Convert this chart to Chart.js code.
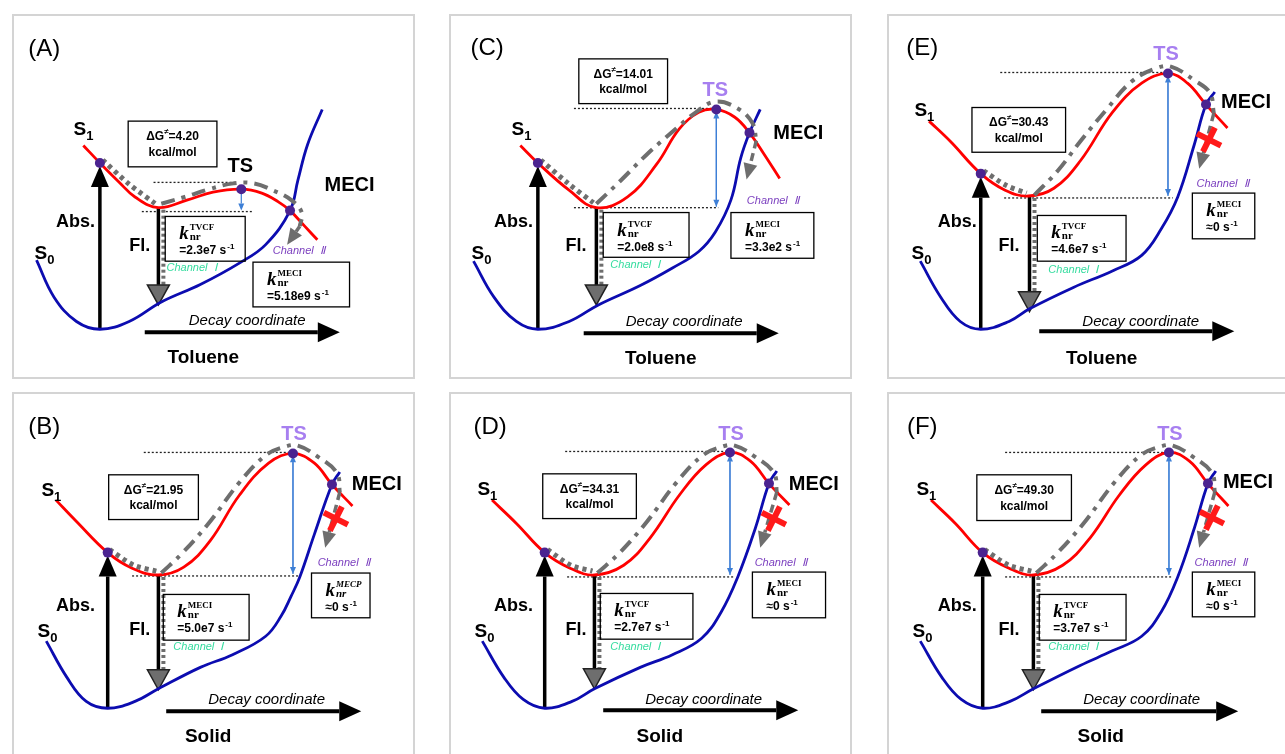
<!DOCTYPE html>
<html>
<head>
<meta charset="utf-8">
<script src="https://cdn.jsdelivr.net/npm/chart.js@4.4.1/dist/chart.umd.min.js"></script>
<style>
  body { margin: 0; background: #fff; width: 1285px; height: 754px; overflow: hidden; position: relative; }
  .frame { position: absolute; width: 403px; height: 365px; border: 2px solid #d4d4d4; box-sizing: border-box; }
  canvas { position: absolute; }
</style>
</head>
<body>
<div class="frame" style="left:12px;top:14px"></div>
<div class="frame" style="left:12px;top:392px"></div>
<div class="frame" style="left:449px;top:14px"></div>
<div class="frame" style="left:449px;top:392px"></div>
<div class="frame" style="left:887px;top:14px"></div>
<div class="frame" style="left:887px;top:392px"></div>
<canvas id="pA" width="403" height="365" style="left:12px;top:14px"></canvas>
<canvas id="pB" width="403" height="365" style="left:12px;top:392px"></canvas>
<canvas id="pC" width="403" height="365" style="left:449px;top:14px"></canvas>
<canvas id="pD" width="403" height="365" style="left:449px;top:392px"></canvas>
<canvas id="pE" width="403" height="365" style="left:887px;top:14px"></canvas>
<canvas id="pF" width="403" height="365" style="left:887px;top:392px"></canvas>
<script>
// panels in order A, B, C, D, E, F ; points are [decay coordinate, energy]
const tags = ['(A)', '(B)', '(C)', '(D)', '(E)', '(F)'];
const media = ['Toluene', 'Solid', 'Toluene', 'Solid', 'Toluene', 'Solid'];
const barriers = ['4.20', '21.95', '14.01', '34.31', '30.43', '49.30'];
const ch1Kinds = ['TVCF', 'MECI', 'TVCF', 'TVCF', 'TVCF', 'TVCF'];
const ch1Rates = ['=2.3e7', '=5.0e7', '=2.0e8', '=2.7e7', '=4.6e7', '=3.7e7'];
const ch2Kinds = ['MECI', 'MECP', 'MECI', 'MECI', 'MECI', 'MECI'];
const ch2Rates = ['=5.18e9', '≈0', '=3.3e2', '≈0', '≈0', '≈0'];

const s1A = [[68,235],[85,217],[105,197],[121,182],[145,171],[175,179],[201,187],[230,190],[251,186],[268,177],[280,168],[295,152],[308,138]];
const s0A = [[20,117],[38,79],[61,54],[85,46],[115,54],[148,74],[188,92],[228,114],[255,133],[280,168],[288,199],[298,236],[313,272]];
const s1B = [[40,259],[61,237],[93,205],[118,189],[145,182],[171,190],[198,217],[228,264],[258,297],[283,307],[305,297],[323,275],[344,253]];
const s0B = [[30,114],[51,77],[71,52],[93,45],[121,52],[145,65],[188,87],[221,100],[255,119],[271,140],[281,160],[290,180],[305,224],[323,275],[331,288]];
const s1C = [[68,235],[86,217],[118,189],[146,171],[178,182],[208,216],[231,252],[251,269],[269,272],[288,264],[303,248],[318,226],[334,201]];
const s0C = [[20,116],[41,79],[64,54],[86,46],[118,54],[148,71],[191,91],[224,109],[251,126],[268,146],[284,179],[294,222],[303,248],[314,272]];
const s1D = [[39,259],[64,235],[93,205],[119,189],[144,182],[174,192],[201,220],[231,264],[258,295],[283,308],[304,299],[323,276],[344,254]];
const s0D = [[29,114],[51,77],[71,54],[93,45],[121,52],[144,65],[191,87],[224,100],[254,117],[274,144],[291,180],[309,230],[323,276],[331,289]];
const s1E = [[38,260],[60,239],[91,206],[116,189],[140,183],[166,191],[193,219],[226,269],[256,299],[283,309],[303,299],[322,277],[344,253]];
const s0E = [[29,116],[50,79],[70,54],[91,46],[120,54],[141,67],[186,89],[226,106],[256,122],[276,149],[293,182],[310,236],[322,277],[331,290]];
const s1F = [[40,259],[65,235],[93,205],[120,189],[145,182],[175,192],[203,220],[233,264],[260,295],[284,308],[305,299],[324,276],[345,253]];
const s0F = [[29,114],[51,77],[71,54],[93,45],[121,52],[145,65],[193,89],[226,104],[256,119],[276,144],[293,180],[310,230],[324,276],[332,289]];

const fcPoints = [[85,217],[93,205],[86,217],[93,205],[91,206],[93,205]];
const s0Minima = [[85,46],[93,45],[86,46],[93,45],[91,46],[93,45]];
const s1Minima = [[145,171],[145,182],[146,171],[144,182],[141,183],[145,182]];
const tsPoints = [[230,190],[283,307],[269,272],[283,308],[283,309],[284,308]];
const meciPoints = [[280,168],[323,275],[303,248],[323,276],[322,277],[324,276]];
const flEnds = [71, 64, 71, 65, 64, 64];

// relaxation paths (gray) and channel II arrow tips
const relaxA = [[88,220],[114,196],[142,175]];
const relaxB = [[95,208],[120,192],[143,186]];
const relaxC = [[89,220],[117,196],[143,176]];
const relaxD = [[96,208],[120,192],[142,186]];
const relaxE = [[94,209],[117,194],[138,186]];
const relaxF = [[95,208],[120,192],[143,186]];
const climbA = [[148,175],[172,182],[197,190],[222,196],[243,196],[262,189],[281,179],[292,166],[290,152]];
const climbB = [[148,184],[170,205],[198,237],[228,277],[255,305],[275,314],[288,315],[308,304],[328,287],[331,267]];
const climbC = [[146,175],[171,199],[198,226],[224,249],[248,269],[268,280],[291,273],[306,258],[310,240]];
const climbD = [[147,184],[170,205],[198,237],[228,277],[255,305],[275,314],[288,315],[308,304],[328,287],[331,267]];
const climbE = [[146,184],[170,209],[193,239],[220,272],[246,301],[270,314],[286,316],[310,302],[326,289],[330,268]];
const climbF = [[148,184],[170,205],[198,237],[228,277],[255,305],[275,314],[288,315],[308,304],[328,287],[331,267]];
const ch2Tips = [[277,133],[316,210],[300,200],[314,210],[315,211],[315,210]];

// text and box placement for each panel
const layouts = [
  { tag: [28,334], s1: [58,251], s0: [18,124], abs: [60,156], fl: [126,132], ts: [229,213], tsColor: '#000', meci: [341,194],
    dg: [114,260,205,213], k1: [152,162,234,116], k2: [242,115,341,69], ch1: [179,109], ch2: [289,127],
    guideTop: [140,226,197], guideBot: [128,241,167], gap: [230,187,168,false], decay: [131,331,43], decayText: [236,55], medium: [191,17], cross: null },
  { tag: [28,334], s1: [25,269], s0: [21,124], abs: [60,150], fl: [126,125], ts: [284,326], tsColor: '#a77ff0', meci: [369,275],
    dg: [94,285,186,239], k1: [150,162,238,115], k2: [302,184,362,138], ch1: [186,108], ch2: [335,194],
    guideTop: [130,283,308], guideBot: [118,290,181], gap: [283,305,183,true], decay: [153,353,42], decayText: [256,54], medium: [196,16], cross: [327,240] },
  { tag: [34,335], s1: [59,251], s0: [18,124], abs: [61,156], fl: [125,132], ts: [268,291], tsColor: '#a77ff0', meci: [353,247],
    dg: [128,324,219,278], k1: [153,166,241,120], k2: [284,166,369,119], ch1: [186,112], ch2: [327,178],
    guideTop: [123,268,273], guideBot: [123,271,171], gap: [269,270,172,true], decay: [133,333,42], decayText: [236,54], medium: [212,16], cross: null },
  { tag: [37,334], s1: [24,270], s0: [21,124], abs: [61,150], fl: [125,125], ts: [284,326], tsColor: '#a77ff0', meci: [369,275],
    dg: [91,286,187,240], k1: [150,163,245,116], k2: [306,185,381,138], ch1: [186,108], ch2: [335,194],
    guideTop: [114,283,309], guideBot: [116,288,180], gap: [283,306,182,true], decay: [153,353,43], decayText: [256,54], medium: [211,16], cross: [328,240] },
  { tag: [31,335], s1: [23,271], s0: [20,124], abs: [67,156], fl: [120,132], ts: [281,329], tsColor: '#a77ff0', meci: [363,279],
    dg: [82,274,178,228], k1: [149,163,240,116], k2: [308,186,372,139], ch1: [186,107], ch2: [339,195],
    guideTop: [111,283,310], guideBot: [115,288,181], gap: [283,307,183,true], decay: [151,351,44], decayText: [255,54], medium: [215,16], cross: [325,241] },
  { tag: [31,334], s1: [25,270], s0: [21,124], abs: [67,150], fl: [120,125], ts: [285,326], tsColor: '#a77ff0', meci: [365,277],
    dg: [87,285,184,238], k1: [151,162,240,115], k2: [308,185,372,139], ch1: [186,108], ch2: [337,194],
    guideTop: [116,285,308], guideBot: [116,288,180], gap: [284,306,182,true], decay: [153,355,42], decayText: [256,54], medium: [214,16], cross: [328,241] }
];

const W = 403, H = 365;
const SANS = '"Liberation Sans", Arial, sans-serif';
const SERIF = '"Liberation Serif", "Times New Roman", serif';
const GRAY = '#6e6e6e';

function toXY(arr) { return arr.map(p => ({ x: p[0], y: p[1] })); }

function arrow(ctx, x1, y1, x2, y2, o) {
  const ang = Math.atan2(y2 - y1, x2 - x1);
  const bx = x2 - o.headLen * Math.cos(ang), by = y2 - o.headLen * Math.sin(ang);
  const hw = o.headW / 2;
  ctx.save();
  ctx.strokeStyle = o.color;
  ctx.lineWidth = o.width;
  if (o.dash) ctx.setLineDash(o.dash);
  ctx.beginPath(); ctx.moveTo(x1, y1); ctx.lineTo(bx, by); ctx.stroke();
  ctx.setLineDash([]);
  ctx.beginPath();
  ctx.moveTo(x2, y2);
  ctx.lineTo(bx + hw * Math.sin(ang), by - hw * Math.cos(ang));
  ctx.lineTo(bx - hw * Math.sin(ang), by + hw * Math.cos(ang));
  ctx.closePath();
  ctx.fillStyle = o.headColor || o.color;
  ctx.fill();
  if (o.headStroke) { ctx.lineWidth = 1.5; ctx.strokeStyle = o.headStroke; ctx.stroke(); }
  ctx.restore();
}

function label(ctx, s, x, y, font, color, align) {
  ctx.save();
  ctx.font = font;
  ctx.fillStyle = color || '#000';
  ctx.textAlign = align || 'center';
  ctx.textBaseline = 'middle';
  ctx.fillText(s, x, y);
  ctx.restore();
}

function stateLabel(ctx, sub, x, y) {
  ctx.save();
  ctx.fillStyle = '#000';
  ctx.textBaseline = 'middle';
  ctx.textAlign = 'left';
  ctx.font = 'bold 19px ' + SANS;
  ctx.fillText('S', x, y);
  const w = ctx.measureText('S').width;
  ctx.font = 'bold 13px ' + SANS;
  ctx.fillText(sub, x + w, y + 7);
  ctx.restore();
}

function barrierBox(ctx, x1, y1, x2, y2, val) {
  ctx.save();
  ctx.strokeStyle = '#000'; ctx.lineWidth = 1.3;
  ctx.strokeRect(x1, y1, x2 - x1, y2 - y1);
  ctx.fillStyle = '#000'; ctx.textBaseline = 'middle'; ctx.textAlign = 'left';
  const h = y2 - y1, cx = (x1 + x2) / 2;
  ctx.font = 'bold 12px ' + SANS;
  const wa = ctx.measureText('ΔG').width, wc = ctx.measureText('=' + val).width;
  ctx.font = 'bold 8px ' + SANS;
  const wb = ctx.measureText('≠').width;
  const x = cx - (wa + wb + wc) / 2, yl = y1 + h * 0.35;
  ctx.font = 'bold 12px ' + SANS; ctx.fillText('ΔG', x, yl);
  ctx.font = 'bold 8px ' + SANS; ctx.fillText('≠', x + wa, yl - 5);
  ctx.font = 'bold 12px ' + SANS; ctx.fillText('=' + val, x + wa + wb, yl);
  ctx.textAlign = 'center';
  ctx.fillText('kcal/mol', cx, y1 + h * 0.69);
  ctx.restore();
}

function rateBox(ctx, x1, y1, x2, y2, kind, rate) {
  const it = kind === 'MECP' ? 'italic ' : '';
  ctx.save();
  ctx.strokeStyle = '#000'; ctx.lineWidth = 1.3;
  ctx.strokeRect(x1, y1, x2 - x1, y2 - y1);
  ctx.fillStyle = '#000'; ctx.textAlign = 'left'; ctx.textBaseline = 'alphabetic';
  const lx = x1 + 14;
  ctx.font = 'italic bold 19px ' + SERIF;
  ctx.fillText('k', lx, y1 + 23);
  const kw = ctx.measureText('k').width;
  ctx.font = it + 'bold 9px ' + SERIF;
  ctx.fillText(kind, lx + kw + 1, y1 + 14);
  ctx.font = it + 'bold 11px ' + SERIF;
  ctx.fillText('nr', lx + kw + 1, y1 + 24);
  ctx.font = 'bold 12px ' + SANS;
  ctx.fillText(rate + ' s', lx, y1 + 38);
  const rw = ctx.measureText(rate + ' s').width;
  ctx.font = 'bold 8px ' + SANS;
  ctx.fillText('-1', lx + rw + 1, y1 + 33);
  ctx.restore();
}

function schemePlugin(i, lay, climb) {
  return {
    id: 'scheme' + i,
    beforeDatasetsDraw(chart) {
      const ctx = chart.ctx;
      const X = v => chart.scales.x.getPixelForValue(v);
      const Y = v => chart.scales.y.getPixelForValue(v);

      // level guides at TS and S1 minimum
      ctx.save();
      ctx.strokeStyle = '#222'; ctx.lineWidth = 1.3; ctx.setLineDash([2, 2]);
      [lay.guideTop, lay.guideBot].forEach(g => {
        ctx.beginPath(); ctx.moveTo(X(g[0]), Y(g[2])); ctx.lineTo(X(g[1]), Y(g[2])); ctx.stroke();
      });
      ctx.restore();

      // barrier height arrow
      const g = lay.gap, gx = X(g[0]);
      arrow(ctx, gx, Y(g[1]), gx, Y(g[2]), { color: '#3d7fd6', width: 1.2, headLen: 7, headW: 6 });
      if (g[3]) arrow(ctx, gx, Y(g[2]), gx, Y(g[1]), { color: '#3d7fd6', width: 1.2, headLen: 7, headW: 6 });

      // absorption
      const fc = fcPoints[i], m0 = s0Minima[i], m1 = s1Minima[i];
      arrow(ctx, X(fc[0]), Y(m0[1]), X(fc[0]), Y(fc[1]) + 3, { color: '#000', width: 3.5, headLen: 21, headW: 18 });

      // fluorescence
      const fx = X(m1[0]);
      ctx.save();
      ctx.strokeStyle = GRAY; ctx.lineWidth = 4; ctx.setLineDash([3, 3]);
      ctx.beginPath(); ctx.moveTo(fx + 5, Y(m1[1]) + 2); ctx.lineTo(fx + 5, Y(flEnds[i]) - 18); ctx.stroke();
      ctx.restore();
      arrow(ctx, fx, Y(m1[1]), fx, Y(flEnds[i]), { color: '#000', width: 3.5, headLen: 20, headW: 22, headColor: GRAY, headStroke: '#222' });
    },
    afterDatasetsDraw(chart) {
      const ctx = chart.ctx;
      const X = v => chart.scales.x.getPixelForValue(v);
      const Y = v => chart.scales.y.getPixelForValue(v);

      // channel II descent
      const last = climb[climb.length - 1], tip = ch2Tips[i];
      arrow(ctx, X(last[0]), Y(last[1]), X(tip[0]), Y(tip[1]), { color: GRAY, width: 3.5, dash: [8, 5], headLen: 16, headW: 14 });
      if (lay.cross) {
        const cx = X(lay.cross[0]), cy = Y(lay.cross[1]);
        ctx.save();
        ctx.strokeStyle = '#ff1a1a'; ctx.lineWidth = 6; ctx.lineCap = 'butt';
        ctx.beginPath();
        ctx.moveTo(cx - 12, cy - 6); ctx.lineTo(cx + 12, cy + 6);
        ctx.moveTo(cx + 6, cy - 12); ctx.lineTo(cx - 6, cy + 12);
        ctx.stroke();
        ctx.restore();
      }

      label(ctx, tags[i], X(lay.tag[0]), Y(lay.tag[1]), '24px ' + SANS);
      stateLabel(ctx, '1', X(lay.s1[0]), Y(lay.s1[1]));
      stateLabel(ctx, '0', X(lay.s0[0]), Y(lay.s0[1]));
      label(ctx, 'Abs.', X(lay.abs[0]), Y(lay.abs[1]), 'bold 18px ' + SANS);
      label(ctx, 'Fl.', X(lay.fl[0]), Y(lay.fl[1]), 'bold 18px ' + SANS);
      label(ctx, 'TS', X(lay.ts[0]), Y(lay.ts[1]), 'bold 20px ' + SANS, lay.tsColor);
      label(ctx, 'MECI', X(lay.meci[0]), Y(lay.meci[1]), 'bold 20px ' + SANS);
      label(ctx, 'Channel  Ⅰ', X(lay.ch1[0]), Y(lay.ch1[1]), 'italic 11px ' + SANS, '#35dc9f');
      label(ctx, 'Channel  Ⅱ', X(lay.ch2[0]), Y(lay.ch2[1]), 'italic 11px ' + SANS, '#7b3fbf');

      const d = lay.dg;
      barrierBox(ctx, X(d[0]), Y(d[1]), X(d[2]), Y(d[3]), barriers[i]);
      const k1 = lay.k1, k2 = lay.k2;
      rateBox(ctx, X(k1[0]), Y(k1[1]), X(k1[2]), Y(k1[3]), ch1Kinds[i], ch1Rates[i]);
      rateBox(ctx, X(k2[0]), Y(k2[1]), X(k2[2]), Y(k2[3]), ch2Kinds[i], ch2Rates[i]);

      const dc = lay.decay;
      arrow(ctx, X(dc[0]), Y(dc[2]), X(dc[1]), Y(dc[2]), { color: '#000', width: 4, headLen: 22, headW: 20 });
      label(ctx, 'Decay coordinate', X(lay.decayText[0]), Y(lay.decayText[1]), 'italic 15px ' + SANS);
      label(ctx, media[i], X(lay.medium[0]), Y(lay.medium[1]), 'bold 19px ' + SANS);
    }
  };
}

function makePanel(id, i, s1, s0, relax, climb) {
  const keyDots = [fcPoints[i], tsPoints[i], meciPoints[i]];
  new Chart(document.getElementById(id), {
    type: 'line',
    data: {
      datasets: [
        { data: toXY(keyDots), showLine: false, pointRadius: 5, pointBackgroundColor: '#4b2390', pointBorderWidth: 0, order: 0 },
        { data: toXY(relax), borderColor: GRAY, borderWidth: 5, borderDash: [4, 4], pointRadius: 0, tension: 0.3, order: 1 },
        { data: toXY(climb), borderColor: GRAY, borderWidth: 4, borderDash: [14, 7, 4, 7], pointRadius: 0, tension: 0.4, order: 1 },
        { data: toXY(s1), borderColor: '#ff0000', borderWidth: 2.8, pointRadius: 0, tension: 0.4, order: 2 },
        { data: toXY(s0), borderColor: '#0c0cb0', borderWidth: 2.8, pointRadius: 0, tension: 0.4, order: 3 }
      ]
    },
    options: {
      responsive: false,
      animation: false,
      devicePixelRatio: 1,
      events: [],
      layout: { padding: 0 },
      scales: {
        x: { type: 'linear', min: 0, max: W, display: false },
        y: { type: 'linear', min: 0, max: H, display: false }
      },
      plugins: { legend: { display: false }, tooltip: { enabled: false } }
    },
    plugins: [schemePlugin(i, layouts[i], climb)]
  });
}

makePanel('pA', 0, s1A, s0A, relaxA, climbA);
makePanel('pB', 1, s1B, s0B, relaxB, climbB);
makePanel('pC', 2, s1C, s0C, relaxC, climbC);
makePanel('pD', 3, s1D, s0D, relaxD, climbD);
makePanel('pE', 4, s1E, s0E, relaxE, climbE);
makePanel('pF', 5, s1F, s0F, relaxF, climbF);
</script>
</body>
</html>
